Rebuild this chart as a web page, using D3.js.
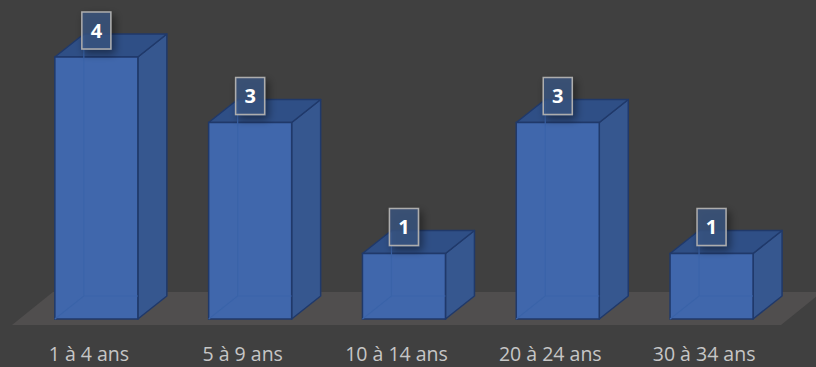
<!DOCTYPE html>
<html>
<head>
<meta charset="utf-8">
<script src="https://cdn.jsdelivr.net/npm/d3@7"></script>
<style>
  html, body { margin: 0; padding: 0; background: #404040; }
  svg { display: block; }
</style>
</head>
<body>
<div id="chart"></div>
<script>
// data
var categories = ["1 à 4 ans", "5 à 9 ans", "10 à 14 ans", "20 à 24 ans", "30 à 34 ans"];
var values = [4, 3, 1, 3, 1];

var svgWidth = 816;
var svgHeight = 367;

// 3d look: depth offsets (screen px)
var barDepth = {dx: 29, dy: 23};
var floorDepth = {dx: 41, dy: 33};
var floorFront = 325;
// bars stand a bit behind the front edge of the floor
var barInset = 6;

var svg = d3.select("#chart").append("svg")
  .attr("width", svgWidth)
  .attr("height", svgHeight);

svg.append("rect")
  .attr("width", svgWidth).attr("height", svgHeight)
  .attr("fill", "#404040");

var defs = svg.append("defs");
var f = defs.append("filter").attr("id", "shadow")
  .attr("x", "-60%").attr("y", "-60%").attr("width", "220%").attr("height", "220%");
f.append("feGaussianBlur").attr("in", "SourceAlpha").attr("stdDeviation", 4);
f.append("feOffset").attr("dx", 3).attr("dy", 4).attr("result", "b");
f.append("feComponentTransfer").append("feFuncA").attr("type", "linear").attr("slope", 0.55);
var fm = f.append("feMerge");
fm.append("feMergeNode");
fm.append("feMergeNode").attr("in", "SourceGraphic");

// x scale over the front edge of the floor
var x = d3.scaleBand()
  .domain(categories)
  .range([12, 781])
  .padding(0);

var y = d3.scaleLinear()
  .domain([0, 4])
  .range([floorFront - barInset, 57]);

var barWidth = 83;
var shiftX = barInset * floorDepth.dx / floorDepth.dy;

// floor
var fx0 = x.range()[0], fx1 = x.range()[1];
svg.append("path")
  .attr("d", "M" + fx0 + "," + floorFront +
    "L" + fx1 + "," + floorFront +
    "L" + (fx1 + floorDepth.dx) + "," + (floorFront - floorDepth.dy) +
    "L" + (fx0 + floorDepth.dx) + "," + (floorFront - floorDepth.dy) + "Z")
  .attr("fill", "#504e4e");

var bars = svg.selectAll("g.bar")
  .data(categories.map(function(c, i) { return {cat: c, val: values[i]}; }))
  .enter().append("g").attr("class", "bar");

function xl(d) { return x(d.cat) + x.bandwidth() / 2 + shiftX - barWidth / 2; }
function xr(d) { return xl(d) + barWidth; }
var y0 = y(0);
var dx = barDepth.dx, dy = barDepth.dy;

// hidden back edges seen through the faces
bars.append("path")
  .attr("d", function(d) {
    return "M" + (xl(d) + dx) + "," + (y(d.val) - dy) + "V" + (y0 - dy) +
      "H" + (xr(d) + dx) + "M" + (xl(d) + dx) + "," + (y0 - dy) + "L" + xl(d) + "," + y0;
  })
  .attr("fill", "none")
  .attr("stroke", "#4a76c0")
  .attr("stroke-width", 1.5);

// right side
bars.append("path")
  .attr("d", function(d) {
    return "M" + xr(d) + "," + y(d.val) + "L" + (xr(d) + dx) + "," + (y(d.val) - dy) +
      "V" + (y0 - dy) + "L" + xr(d) + "," + y0 + "Z";
  })
  .attr("fill", "#36578f")
  .attr("stroke", "#20396a")
  .attr("stroke-width", 1.5)
  .attr("stroke-linejoin", "round");

// top
bars.append("path")
  .attr("d", function(d) {
    return "M" + xl(d) + "," + y(d.val) + "L" + (xl(d) + dx) + "," + (y(d.val) - dy) +
      "H" + (xr(d) + dx) + "L" + xr(d) + "," + y(d.val) + "Z";
  })
  .attr("fill", "#2f4f86")
  .attr("stroke", "#20396a")
  .attr("stroke-width", 1.5)
  .attr("stroke-linejoin", "round");

// front
bars.append("rect")
  .attr("x", xl)
  .attr("y", function(d) { return y(d.val); })
  .attr("width", barWidth)
  .attr("height", function(d) { return y0 - y(d.val); })
  .attr("fill", "#4068b0")
  .attr("fill-opacity", 0.97)
  .attr("stroke", "#20396a")
  .attr("stroke-width", 1.5);

// faint back edges again on top of front face
bars.append("path")
  .attr("d", function(d) {
    return "M" + (xl(d) + dx) + "," + (y(d.val) - dy + 2) + "V" + (y0 - dy) +
      "H" + xr(d) + "M" + (xl(d) + dx) + "," + (y0 - dy) + "L" + xl(d) + "," + y0;
  })
  .attr("fill", "none")
  .attr("stroke", "#3a63a8")
  .attr("stroke-width", 1.2);

// data labels
var boxW = 29, boxH = 37;
var lab = bars.append("g")
  .attr("transform", function(d) {
    return "translate(" + (xl(d) + barWidth / 2) + "," + (y(d.val) - 8 - boxH / 2) + ")";
  });
lab.append("rect")
  .attr("x", -boxW / 2).attr("y", -boxH / 2)
  .attr("width", boxW).attr("height", boxH)
  .attr("fill", "#3b5584")
  .attr("fill-opacity", 0.75)
  .attr("stroke", "#adadad")
  .attr("stroke-width", 1.5)
  .attr("filter", "url(#shadow)");
lab.append("text")
  .attr("text-anchor", "middle")
  .attr("dy", "0.36em")
  .attr("font-family", "'Open Sans', Lato, sans-serif")
  .attr("font-weight", "bold")
  .attr("font-size", 20)
  .attr("fill", "#ffffff")
  .text(function(d) { return d.val; });

// category labels
svg.selectAll("text.cat")
  .data(categories)
  .enter().append("text")
  .attr("class", "cat")
  .attr("x", function(d) { return x(d) + x.bandwidth() / 2; })
  .attr("y", 361)
  .attr("text-anchor", "middle")
  .attr("font-family", "'Open Sans', Lato, sans-serif")
  .attr("font-size", 19.5)
  .attr("fill", "#c6c6c6")
  .text(function(d) { return d; });
</script>
</body>
</html>
